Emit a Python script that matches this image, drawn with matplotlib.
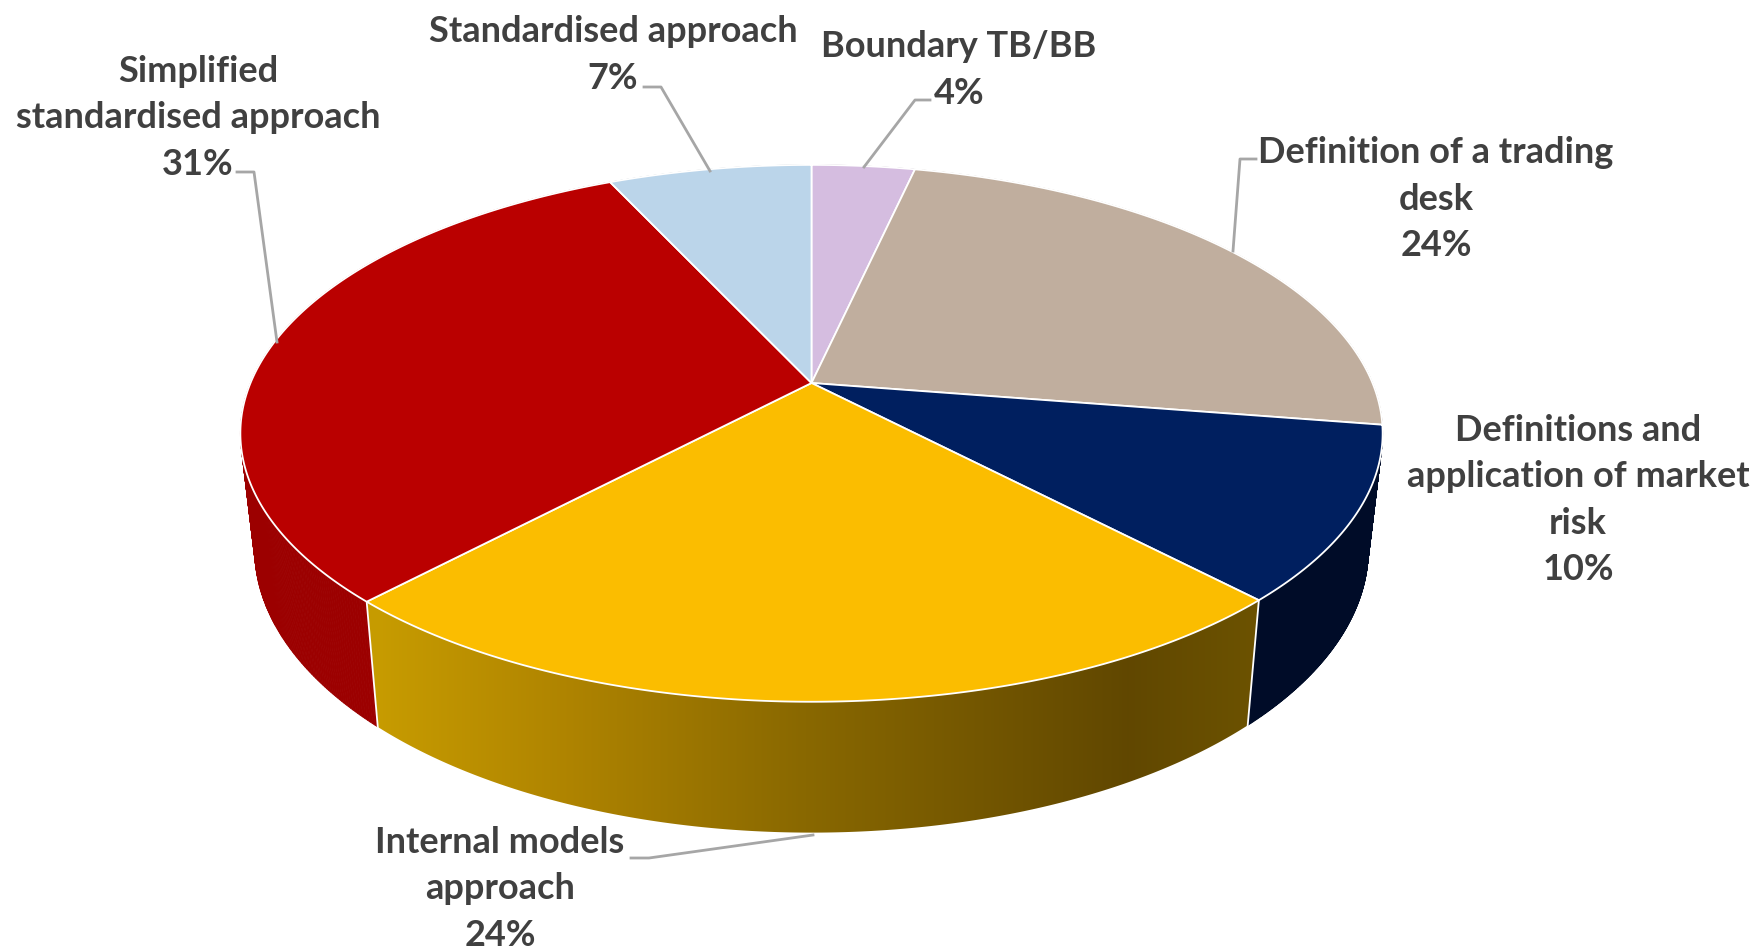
import numpy as np
import matplotlib
matplotlib.use('Agg')
import matplotlib.pyplot as plt
from matplotlib.patches import Polygon

# Share of each slice (labels show them rounded)
categories = ['Boundary TB/BB', 'Definition of a trading\ndesk',
              'Definitions and\napplication of market\nrisk', 'Internal models\napproach',
              'Simplified\nstandardised approach', 'Standardised approach']
values = [3.5, 24.0, 10.4, 24.1, 31.1, 6.9]
top_colors = ['#D5BDE0', '#C0AE9E', '#001F5F', '#FBBD00', '#BA0000', '#BBD5EA']
side_colors = ['#8F7F96', '#807468', '#000C28', None, '#9C0000', '#7D8E9C']

# Yellow side has a left to right gradient
grad_x = [378, 560, 800, 1128, 1247]
grad_rgb = [(0.78, 0.61, 0.0), (0.69, 0.52, 0.0), (0.54, 0.41, 0.0), (0.38, 0.28, 0.0), (0.42, 0.32, 0.0)]

# Perspective of the pie, in pixels
cx, cy = 811.5, 384
rx, ry, k = 561, 259, 0.1875
side_sx, side_sy, side_dy = 0.975, 1.056, 113


def rim(angle):
    # angle in degrees, clockwise from the top of the pie
    t = np.radians(angle)
    u, v = np.sin(t), np.cos(t)
    d = 1 + k * v
    return rx * u / d, ry * v / d


def top_point(angle):
    x, y = rim(angle)
    return np.column_stack([cx + x, cy - y])


def low_point(angle):
    x, y = rim(angle)
    return np.column_stack([cx + side_sx * x, cy - side_sy * y + side_dy])


fig = plt.figure(figsize=(17.55, 9.53), dpi=100, facecolor='white')
ax = fig.add_axes([0, 0, 1, 1])
ax.axis('off')

edges = np.concatenate([[0], np.cumsum(values)]) * 3.6

# Side wall first, the gradient one is an image clipped to the wall shape
for i in range(len(values)):
    angles = np.linspace(edges[i], edges[i + 1], 300)
    up = top_point(angles)
    low = low_point(angles)
    if side_colors[i] is None:
        outline = np.vstack([up, low[::-1]])
        xs = np.arange(outline[:, 0].min() - 2, outline[:, 0].max() + 3)
        grad = np.array([[np.interp(xs, grad_x, [c[n] for c in grad_rgb]) for n in range(3)]]).transpose(0, 2, 1)
        clip = Polygon(outline, closed=True, transform=ax.transData, facecolor='none', edgecolor='none')
        ax.add_patch(clip)
        img = ax.imshow(grad, extent=[xs[0], xs[-1], outline[:, 1].max() + 2, outline[:, 1].min() - 2],
                        aspect='auto', interpolation='bilinear', zorder=2)
        img.set_clip_path(clip)
    else:
        # thin quads, so the silhouette joins the two rims at the far left and right
        for j in range(len(angles) - 1):
            quad = [up[j], up[j + 1], low[j + 1], low[j]]
            ax.add_patch(Polygon(quad, closed=True, facecolor=side_colors[i], edgecolor=side_colors[i],
                                 lw=0.6, zorder=2))

ax.set_xlim(0, 1755)
ax.set_ylim(953, 0)

# White seams between the side segments that face the viewer
for e in edges[3:5]:
    seam = np.vstack([top_point(np.array([e])), low_point(np.array([e]))])
    ax.plot(seam[:, 0], seam[:, 1], color='white', lw=1.3, zorder=3)

# Top face
for i in range(len(values)):
    angles = np.linspace(edges[i], edges[i + 1], 200)
    pts = np.vstack([[cx, cy], top_point(angles)])
    ax.add_patch(Polygon(pts, closed=True, facecolor=top_colors[i], edgecolor='white', lw=1.3, zorder=4))

# Labels, centred on each block
label_pos = [(959, 70), (1436, 199), (1578, 500), (500, 889), (198, 118), (613, 55)]
for name, v, (x, y) in zip(categories, values, label_pos):
    ax.text(x, y, f'{name}\n{v:.0f}%', ha='center', va='center', fontsize=26, family='Lato',
            weight='bold', color='#404040', linespacing=1.49, zorder=6)

# Leader lines
leaders = [[(930, 101), (915, 101), (864, 168)],
           [(1256, 160), (1240, 160), (1233, 252)],
           [(631, 859), (649, 859), (813, 836)],
           [(237, 173), (254, 173), (277, 343)],
           [(644, 88), (661, 88), (710, 172)]]
for line in leaders:
    xs, ys = zip(*line)
    ax.plot(xs, ys, color='#A6A6A6', lw=2, zorder=5)

fig.savefig('out.png', dpi=100, facecolor='white')
